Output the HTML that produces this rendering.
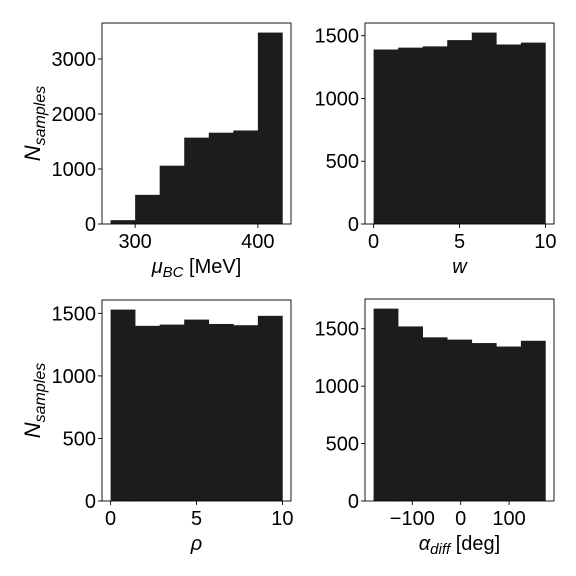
<!DOCTYPE html>
<html><head><meta charset="utf-8"><style>
html,body{margin:0;padding:0;background:#fff;}
svg{display:block;font-family:"Liberation Sans",sans-serif;}
</style></head><body>
<svg id="c" width="576" height="576" viewBox="0 0 576 576"></svg>
<script>
// Panel 1: mu_BC
const edges1 = [280,300,320,340,360,380,400,420];
const counts1 = [70,530,1060,1570,1660,1700,3480];
const xticks1 = [300,400];
const yticks1 = [0,1000,2000,3000];
// Panel 2: w
const edges2 = [0,1.4286,2.8571,4.2857,5.7143,7.1429,8.5714,10];
const counts2 = [1390,1405,1415,1465,1525,1430,1445];
const xticks2 = [0,5,10];
const yticks2 = [0,500,1000,1500];
// Panel 3: rho
const edges3 = [0,1.4286,2.8571,4.2857,5.7143,7.1429,8.5714,10];
const counts3 = [1530,1400,1410,1450,1415,1405,1480];
const xticks3 = [0,5,10];
const yticks3 = [0,500,1000,1500];
// Panel 4: alpha_diff
const edges4 = [-180,-129.3,-78.6,-27.9,22.9,73.6,124.3,175];
const counts4 = [1675,1520,1425,1405,1375,1345,1395];
const xticks4 = [-100,0,100];
const xtickLabels4 = ['\u2212100','0','100'];
const yticks4 = [0,500,1000,1500];

const NS='http://www.w3.org/2000/svg';
const svg=document.getElementById('c');
function mk(tag,attrs,parent){const e=document.createElementNS(NS,tag);for(const k in attrs)e.setAttribute(k,attrs[k]);(parent||svg).appendChild(e);return e;}

function panel(p,edges,counts,xt,xtl,yt,xlabelHTML,ylabel,name){
  const g=mk('g',{});
  
  
  const x0=edges[0],x1=edges[edges.length-1];
  const pad=(x1-x0)*0.05;
  const xmin=x0-pad,xmax=x1+pad;
  const ymax=Math.max(...counts)*1.05;
  const X=v=>p.l+(v-xmin)/(xmax-xmin)*(p.r-p.l);
  const Y=v=>p.b-v/ymax*(p.b-p.t);
  for(let i=0;i<counts.length;i++){
    const r=mk('rect',{x:X(edges[i]),y:Y(counts[i]),width:X(edges[i+1])-X(edges[i])+0.3,height:p.b-Y(counts[i]),fill:'#1c1c1c'},g);
    
    
  }
  const fr=mk('rect',{x:p.l,y:p.t,width:p.r-p.l,height:p.b-p.t,fill:'none',stroke:'#000','stroke-width':0.9},g);
  
  
  xt.forEach((v,i)=>{
    mk('line',{x1:X(v),x2:X(v),y1:p.b,y2:p.b+4,stroke:'#000','stroke-width':0.9},g);
    const t=mk('text',{x:X(v),y:p.b+24,'font-size':20,'text-anchor':'middle'},g);
    t.textContent=xtl?xtl[i]:String(v);
    
    
  });
  yt.forEach(v=>{
    mk('line',{x1:p.l-4,x2:p.l,y1:Y(v),y2:Y(v),stroke:'#000','stroke-width':0.9},g);
    const t=mk('text',{x:p.l-6,y:Y(v)+7,'font-size':20,'text-anchor':'end'},g);
    t.textContent=String(v);
    
    
  });
  const xl=mk('text',{x:(p.l+p.r)/2,y:p.b+49,'font-size':20,'text-anchor':'middle'},g);
  xl.innerHTML=xlabelHTML;
  
  
  if(ylabel){
    const cy=(p.t+p.b)/2;
    const yl=mk('text',{x:0,y:0,'font-size':22,'text-anchor':'middle',transform:`translate(40,${cy}) rotate(-90)`},g);
    yl.innerHTML='<tspan font-style="italic">N</tspan><tspan font-style="italic" font-size="16" dy="5">samples</tspan>';
    
    
  }
}
panel({l:102,r:291,t:23,b:224},edges1,counts1,xticks1,null,yticks1,
  '<tspan font-style="italic">μ</tspan><tspan font-style="italic" font-size="15" dy="4">BC</tspan><tspan dy="-4"> [MeV]</tspan>',true,'panel-mu-bc');
panel({l:365,r:554,t:23,b:224},edges2,counts2,xticks2,null,yticks2,
  '<tspan font-style="italic">w</tspan>',false,'panel-w');
panel({l:102,r:291,t:300,b:501},edges3,counts3,xticks3,null,yticks3,
  '<tspan font-style="italic">ρ</tspan>',true,'panel-rho');
panel({l:365,r:554,t:299,b:501},edges4,counts4,xticks4,xtickLabels4,yticks4,
  '<tspan font-style="italic">α</tspan><tspan font-style="italic" font-size="15" dy="4">diff</tspan><tspan dy="-4"> [deg]</tspan>',false,'panel-alpha-diff');
</script>
</body></html>
